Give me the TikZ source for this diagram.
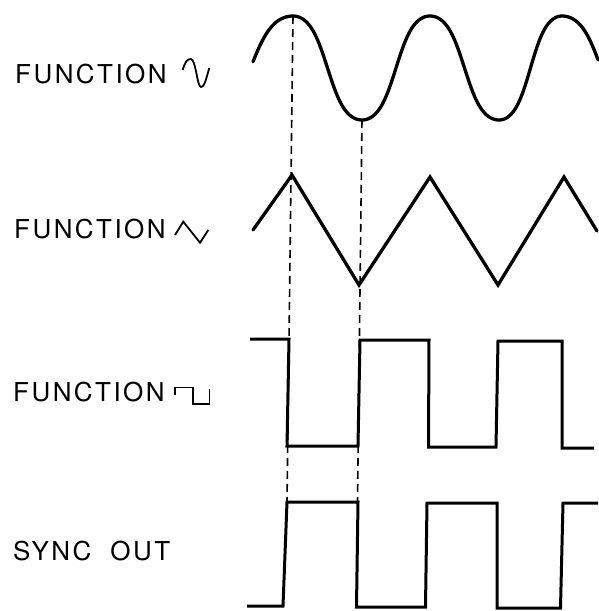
\documentclass[tikz,border=0pt]{standalone}
\usepackage{fontspec}
\setmainfont{TeX Gyre Heros}
\begin{document}
\begin{tikzpicture}[x=1pt,y=-1pt,
  wave/.style={line width=3.3pt,line join=round,line cap=round},
  sqwave/.style={line width=3pt,line join=miter,line cap=butt},
  guide/.style={line width=1.6pt,dash pattern=on 8pt off 5pt},
  sym/.style={line width=1.8pt,line join=miter},
  lbl/.style={anchor=base west,inner sep=0pt,font=\fontsize{26}{30}\selectfont\addfontfeature{LetterSpace=9.5}}]
\useasboundingbox (0,0) rectangle (598,611);
% labels
\node[lbl] (l1) at (15,83.3) {FUNCTION};
\node[lbl] (l2) at (14,238.3) {FUNCTION};
\node[lbl] (l3) at (13,401.3) {FUNCTION};
\node[lbl] (l4) at (13,560) {SYNC\hspace{19pt}OUT};
% label symbols
\draw[sym,line join=round] (182.7,70) .. controls (185,62) and (187,59) .. (190.7,59)
  .. controls (196,59) and (197,87) .. (201,87) .. controls (205,87) and (207,75) .. (209.3,68);
\draw[sym] (175,235) -- (183.3,221.7) -- (200,242.7) -- (208.3,230);
\draw[sym,line width=1.6pt] (175,394.7) -- (175,387.3) -- (192.7,387.3) -- (192.7,404) -- (209.3,404) -- (209.3,388.7);
% reference points
\coordinate (sp1) at (293,16);
\coordinate (st1) at (362,120);
\coordinate (yh1) at (287,502);
\coordinate (yh2) at (357.5,502);
% dashed guides
\draw[guide] (sp1) -- (yh1);
\draw[guide] (st1) -- (yh2);
% sine-like wave (rounded tops, straight flanks)
\draw[wave]
  plot[domain=253:293,samples=30] (\x,{68-68.28*tanh(cos(180*(\x-293)/85))})
  -- plot[domain=293:362,samples=50] (\x,{68-68.28*tanh(cos(180*(\x-293)/69))})
  -- plot[domain=362:430,samples=50] (\x,{68+68.28*tanh(cos(180*(\x-362)/68))})
  -- plot[domain=430:499,samples=50] (\x,{68-68.28*tanh(cos(180*(\x-430)/69))})
  -- plot[domain=499:562,samples=50] (\x,{68+68.28*tanh(cos(180*(\x-499)/63))})
  -- plot[domain=562:598,samples=25] (\x,{68-68.28*tanh(cos(180*(\x-562)/78))});
% triangle wave
\draw[wave,line join=miter] (253,230) -- (292,175) -- (359,285) -- (430,177) -- (498,285) -- (564,177) -- (597,231);
% square wave
\draw[sqwave] (250,339) -- (289,339) -- (287,446) -- (358,446) -- (360,340) -- (429,340) -- (428.5,447) -- (496,447) -- (498,341) -- (562,341) -- (562,448) -- (594,448);
% sync out
\draw[sqwave] (247,606) -- (283,606) -- (287,502) -- (358,502) -- (356.5,607) -- (425.5,607) -- (427,503) -- (497,503) -- (497,608) -- (560.5,608) -- (563,503) -- (598,503);
\end{tikzpicture}
\end{document}
